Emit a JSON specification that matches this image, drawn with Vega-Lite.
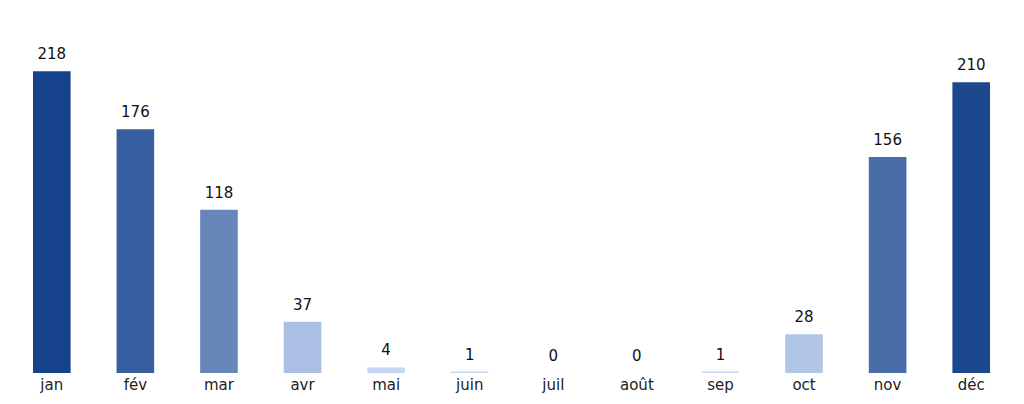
{
  "$schema": "https://vega.github.io/schema/vega-lite/v6.json",
  "width": 1003,
  "height": 353,
  "autosize": {"type": "none"},
  "padding": {"left": 10, "top": 20, "right": 11, "bottom": 31},
  "background": "white",
  "config": {"view": {"stroke": null}, "font": "DejaVu Sans"},
  "data": {
    "values": [
      {"mois": "jan", "valeur": 218},
      {"mois": "fév", "valeur": 176},
      {"mois": "mar", "valeur": 118},
      {"mois": "avr", "valeur": 37},
      {"mois": "mai", "valeur": 4},
      {"mois": "juin", "valeur": 1},
      {"mois": "juil", "valeur": 0},
      {"mois": "août", "valeur": 0},
      {"mois": "sep", "valeur": 1},
      {"mois": "oct", "valeur": 28},
      {"mois": "nov", "valeur": 156},
      {"mois": "déc", "valeur": 210}
    ]
  },
  "encoding": {
    "x": {
      "field": "mois",
      "type": "nominal",
      "sort": null,
      "scale": {"paddingInner": 0.55, "paddingOuter": 0.275},
      "axis": {
        "title": null,
        "labelAngle": 0,
        "ticks": false,
        "domain": false,
        "labelFontSize": 15,
        "labelColor": "#222222",
        "labelPadding": 4,
        "labelFont": "DejaVu Sans"
      }
    },
    "y": {
      "field": "valeur",
      "type": "quantitative",
      "scale": {"domain": [0, 255], "nice": false, "zero": true},
      "axis": null
    }
  },
  "layer": [
    {
      "mark": {"type": "bar"},
      "encoding": {
        "color": {
          "field": "valeur",
          "type": "quantitative",
          "scale": {"domain": [0, 218], "range": ["#c8d8f5", "#15428a"], "interpolate": "rgb"},
          "legend": null
        }
      }
    },
    {
      "mark": {"type": "text", "dy": -17, "fontSize": 15, "color": "#111111", "font": "DejaVu Sans"},
      "encoding": {"text": {"field": "valeur", "type": "quantitative"}}
    }
  ]
}
